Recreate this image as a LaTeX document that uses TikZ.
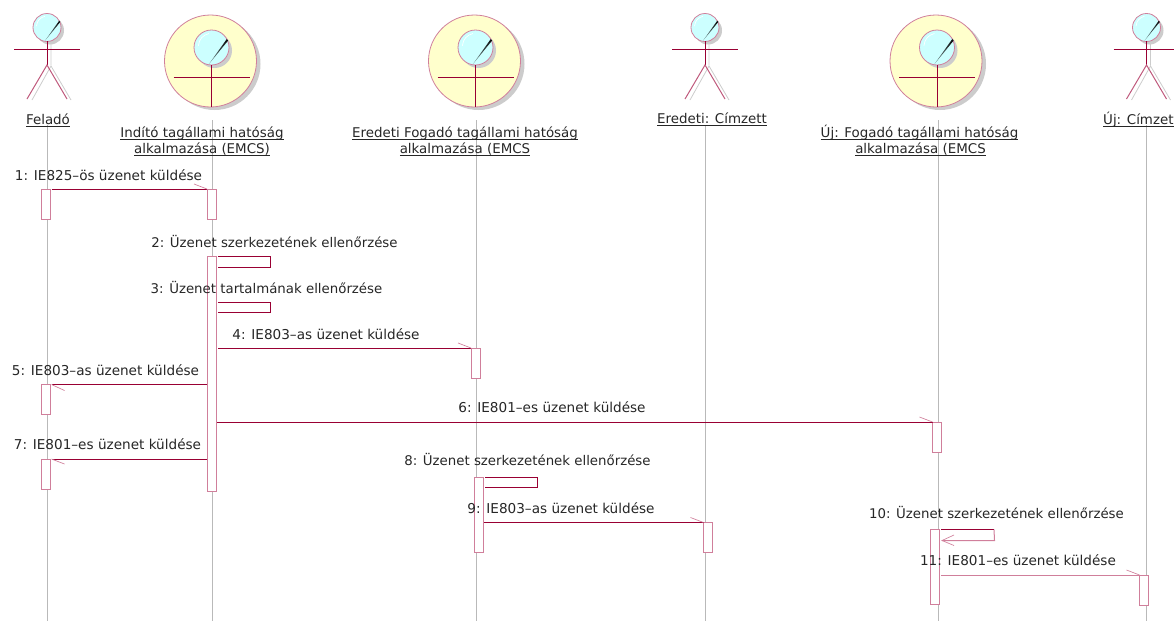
\documentclass[tikz,border=0pt]{standalone}
\usepackage{fontspec}
\setmainfont{DejaVu Sans}
\newcommand{\ulbl}[1]{\underline{\smash{#1}}}
\definecolor{rosered}{HTML}{990033}
\definecolor{rosepink}{HTML}{D07F9B}
\definecolor{headfill}{HTML}{CCFFFF}
\definecolor{bodyfill}{HTML}{FFFFCC}
\definecolor{dropgrey}{HTML}{CCCCCC}
\tikzset{
  x=.75pt,y=-.75pt,
  lifeline/.style={draw=gray!55,line width=.6pt},
  actbox/.style={draw=rosepink,fill=white,line width=.75pt,minimum width=6.75pt,minimum height=#1,inner sep=0pt,outer sep=0pt,anchor=north},
  msg/.style={draw=rosered,line width=.75pt},
  msglight/.style={draw=rosepink,line width=.75pt},
  barb/.style={draw=rosepink,line width=.5pt},
  msgtext/.style={font=\fontsize{10.2}{12}\selectfont,text=black!85,anchor=base,inner sep=0pt},
  longtext/.style={font=\fontsize{10}{12}\selectfont,text=black!85,anchor=base,inner sep=0pt},
  headtext/.style={font=\fontsize{10.05}{12}\selectfont,text=black!85,inner sep=0pt,align=center,anchor=base},
}
\newcommand{\headicon}[3]{% cx, cy, r in px
  \fill[dropgrey] (#1+3,#2+3) circle[radius=#3*.75pt];
  \draw[draw=rosepink,fill=headfill,line width=.6pt] (#1,#2) circle[radius=#3*.75pt];
  \draw[white,line width=.5pt] (#1-.75*#3,#2-.1*#3) .. controls (#1-.7*#3,#2-.5*#3) and (#1-.5*#3,#2-.7*#3) .. (#1-.15*#3,#2-.8*#3);
  \shade[left color=headfill!60!black,right color=black] (#1-.15*#3,#2+.95*#3) -- (#1+.95*#3,#2-.40*#3) -- (#1+.87*#3,#2-.48*#3) -- cycle;
}
\newcommand{\actoricon}[1]{% center x
  \draw[dropgrey,line width=.6pt] (#1+4,40) -- (#1+4,65) (#1-15,100) -- (#1+4,66) -- (#1+24,100);
  \headicon{#1}{27.5}{14}
  \draw[rosered,line width=.75pt] (#1,41) -- (#1,65) (#1-33,49) -- (#1+33,49);
  \draw[draw=rosepink!70!rosered,line width=.75pt] (#1-20,99) -- (#1,65) -- (#1+20,99);
}
\newcommand{\boundaryicon}[1]{% center x
  \fill[dropgrey] (#1+4,64) circle[radius=34.5pt];
  \draw[draw=rosepink,fill=bodyfill,line width=.6pt] (#1,61) circle[radius=34.5pt];
  \headicon{#1+1}{47.5}{17.5}
  \draw[rosered,line width=.75pt] (#1+1,65) -- (#1+1,107) (#1-37,77) -- (#1+39,77);
}
\begin{document}
\begin{tikzpicture}
\useasboundingbox (0,0) rectangle (1174,622);
% lifeline ends
\coordinate (l1a) at (47,125); \coordinate (l1b) at (47,621);
\coordinate (l2a) at (212,120); \coordinate (l2b) at (212,621);
\coordinate (l3a) at (476,120); \coordinate (l3b) at (476,621);
\coordinate (l4a) at (705,125); \coordinate (l4b) at (705,621);
\coordinate (l5a) at (938,120); \coordinate (l5b) at (938,621);
\coordinate (l6a) at (1146.5,125); \coordinate (l6b) at (1146.5,621);
\foreach \n in {1,...,6} \draw[lifeline] (l\n a) -- (l\n b);
% icons
\actoricon{47}
\boundaryicon{210.5}
\boundaryicon{474.5}
\actoricon{705}
\boundaryicon{936}
\actoricon{1146.5}
% heads
\node[headtext] (h1) at (48,124) {\ulbl{Feladó}};
\node[headtext] (h2) at (202,137) {\ulbl{Indító tagállami hatóság}};
\node[headtext] (h2b) at (202,153) {\ulbl{alkalmazása (EMCS)}};
\node[headtext] (h3) at (465,137) {\ulbl{Eredeti Fogadó tagállami hatóság}};
\node[headtext] (h3b) at (465,153) {\ulbl{alkalmazása (EMCS}};
\node[headtext] (h4) at (712,123.5) {\ulbl{Eredeti: Címzett}};
\node[headtext] (h5) at (919.5,137) {\ulbl{Új: Fogadó tagállami hatóság}};
\node[headtext] (h5b) at (920.5,153) {\ulbl{alkalmazása (EMCS}};
\node[headtext] (h6) at (1141,124) {\ulbl{Új: Címzett}};
% activation boxes
\node[actbox=22.5pt] (a1) at (46,189) {};
\node[actbox=22.5pt] (b1) at (211.5,189) {};
\node[actbox=176.25pt] (b2) at (211.5,256.5) {};
\node[actbox=22.5pt] (c1) at (475.5,348) {};
\node[actbox=22.5pt] (a2) at (46,384.5) {};
\node[actbox=22.5pt] (e1) at (937,422) {};
\node[actbox=22.5pt] (a3) at (46,459) {};
\node[actbox=56.25pt] (c2) at (478.5,477) {};
\node[actbox=22.5pt] (d1) at (708,522.5) {};
\node[actbox=56.25pt] (e2) at (935,529.5) {};
\node[actbox=22.5pt] (f1) at (1144,575) {};
% message 1
\draw[msg] ([xshift=.75pt]a1.north east) -- (b1.north west);
\draw[barb] (b1.north west) -- +(-13,-5);
\node[msgtext] (m1) at (108.5,180) {1: IE825–ös üzenet küldése};
% message 2
\coordinate (s2a) at (270.5,256.5); \coordinate (s2b) at (270.5,267);
\coordinate (s2c) at (218,256.5); \coordinate (s2d) at (218,267);
\draw[msg] (s2c) -- (s2a) -- (s2b) -- (s2d);
\node[longtext] (m2) at (274.5,247) {2: Üzenet szerkezetének ellenőrzése};
% message 3
\coordinate (s3a) at (270.5,302); \coordinate (s3b) at (270.5,312);
\coordinate (s3c) at (218,302); \coordinate (s3d) at (218,312);
\draw[msg] (s3c) -- (s3a) -- (s3b) -- (s3d);
\node[longtext] (m3) at (266.5,293) {3: Üzenet tartalmának ellenőrzése};
% message 4
\coordinate (s4) at (218,348);
\draw[msg] (s4) -- (c1.north west);
\draw[barb] (c1.north west) -- +(-13,-5);
\node[msgtext] (m4) at (326,339) {4: IE803–as üzenet küldése};
% message 5
\coordinate (s5) at (207,384.5);
\draw[msg] (s5) -- ([xshift=.75pt]a2.north east);
\draw[barb] ([xshift=.75pt]a2.north east) -- +(13,6);
\node[msgtext] (m5) at (105.5,375) {5: IE803–as üzenet küldése};
% message 6
\coordinate (s6) at (217,422);
\draw[msg] (s6) -- (e1.north west);
\draw[barb] (e1.north west) -- +(-13,-5);
\node[msgtext] (m6) at (552,412) {6: IE801–es üzenet küldése};
% message 7
\coordinate (s7) at (207,459);
\draw[msg] (s7) -- ([xshift=.75pt]a3.north east);
\draw[barb] ([xshift=.75pt]a3.north east) -- +(13,5);
\node[msgtext] (m7) at (107.5,449) {7: IE801–es üzenet küldése};
% message 8
\coordinate (s8a) at (537.5,477); \coordinate (s8b) at (537.5,487);
\coordinate (s8c) at (485,477); \coordinate (s8d) at (485,487);
\draw[msg] (s8c) -- (s8a) -- (s8b) -- (s8d);
\node[longtext] (m8) at (527.5,465) {8: Üzenet szerkezetének ellenőrzése};
% message 9
\coordinate (s9) at (484,522.5);
\draw[msg] (s9) -- (d1.north west);
\draw[barb] (d1.north west) -- +(-13,-5);
\node[msgtext] (m9) at (561,513) {9: IE803–as üzenet küldése};
% message 10
\coordinate (s10a) at (941,529.5); \coordinate (s10b) at (994,529.5);
\coordinate (s10c) at (994.5,540.5); \coordinate (s10d) at (942,540.5);
\coordinate (s10e) at (954,535); \coordinate (s10f) at (954,545.5);
\draw[msg] (s10a) -- (s10b);
\draw[msglight] (s10b) -- (s10c) -- (s10d);
\draw[barb] (s10e) -- (s10d) -- (s10f);
\node[longtext] (m10) at (996.5,518) {10: Üzenet szerkezetének ellenőrzése};
% message 11
\coordinate (s11) at (941,575);
\draw[msglight] (s11) -- (f1.north west);
\draw[barb] (f1.north west) -- +(-13,-5);
\node[msgtext] (m11) at (1018,565) {11: IE801–es üzenet küldése};
\end{tikzpicture}
\end{document}
